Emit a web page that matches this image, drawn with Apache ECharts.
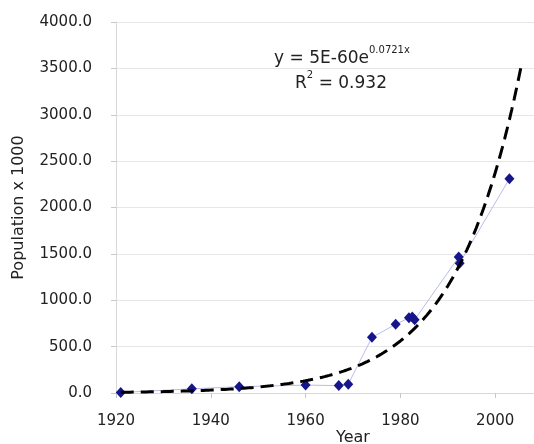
<!DOCTYPE html>
<html>
<head>
<meta charset="utf-8">
<script src="https://cdn.jsdelivr.net/npm/echarts@6/dist/echarts.min.js"></script>
<style>
  html, body { margin: 0; padding: 0; background: #fff; }
  #chart { width: 534px; height: 444px; }
</style>
</head>
<body>
<div id="chart"></div>
<script>
// Population census points (thousands)
const years = [1921, 1936, 1946, 1960, 1967, 1969, 1974, 1979, 1981.8, 1982.5, 1983, 1992.3, 1992.5, 2003];
const population = [5, 45, 68, 85, 80, 95, 600, 740, 810, 820, 790, 1465, 1400, 2310];

// Exponential trend y = a * e^(b x) and its fit quality
const trendA = 5.3e-60;
const trendB = 0.07213;
const rSquared = 0.932;
const trendStart = 1921;
const trendEnd = 2005.5;

// Axis ticks
const xTicks = [1920, 1940, 1960, 1980, 2000, 2020];
const yTicks = [0, 500, 1000, 1500, 2000, 2500, 3000, 3500, 4000];

const font = 'DejaVu Sans';
const textColor = '#222';

const pointData = years.map((y, i) => [y, population[i]]);

const trendData = [];
for (let x = trendStart; x <= trendEnd + 1e-9; x += 0.5) {
  trendData.push([x, trendA * Math.exp(trendB * x)]);
}

const aText = trendA.toExponential(0).toUpperCase().replace('+', '');
const bText = trendB.toFixed(4);

const eqRich = {
  m: { fontFamily: font, fontSize: 17, lineHeight: 22, fill: textColor, verticalAlign: 'bottom' },
  s: { fontFamily: font, fontSize: 10, lineHeight: 10, fill: textColor, verticalAlign: 'top' }
};

const chart = echarts.init(document.getElementById('chart'), null, { renderer: 'canvas' });
chart.setOption({
  animation: false,
  backgroundColor: '#fff',
  // the plot runs on past the right edge of the page, up to 2020
  grid: { left: 116, top: 22, width: 474, height: 371, containLabel: false, outerBoundsMode: 'none' },
  xAxis: {
    type: 'value',
    min: xTicks[0],
    max: xTicks[xTicks.length - 1],
    interval: xTicks[1] - xTicks[0],
    name: 'Year',
    nameLocation: 'middle',
    nameGap: 37,
    nameMoveOverlap: false,
    nameTextStyle: { fontFamily: font, fontSize: 16, color: textColor },
    axisLine: { show: true, lineStyle: { color: '#d8d8d8', width: 1 } },
    axisTick: { show: true, length: 5, lineStyle: { color: '#c8c8c8' } },
    axisLabel: { fontFamily: font, fontSize: 15, color: textColor, margin: 21, formatter: v => String(v) },
    splitLine: { show: false }
  },
  yAxis: {
    type: 'value',
    min: yTicks[0],
    max: yTicks[yTicks.length - 1],
    interval: yTicks[1] - yTicks[0],
    name: 'Population x 1000',
    nameLocation: 'middle',
    nameGap: 89,
    nameRotate: 90,
    nameMoveOverlap: false,
    nameTextStyle: { fontFamily: font, fontSize: 16, color: textColor },
    axisLine: { show: true, lineStyle: { color: '#d8d8d8', width: 1 } },
    axisTick: { show: true, length: 5, lineStyle: { color: '#c8c8c8' } },
    axisLabel: {
      fontFamily: font, fontSize: 15, color: textColor, margin: 24,
      formatter: v => v.toFixed(1)
    },
    splitLine: { show: true, lineStyle: { color: '#e6e6e6', width: 1 } }
  },
  series: [
    {
      name: 'Population',
      type: 'line',
      data: pointData,
      symbol: 'diamond',
      symbolSize: [10, 11],
      itemStyle: { color: '#16168a' },
      lineStyle: { color: '#b9bce8', width: 1 },
      z: 2
    },
    {
      name: 'Trend',
      type: 'line',
      data: trendData,
      showSymbol: false,
      symbol: 'none',
      smooth: false,
      lineStyle: { color: '#000', width: 3, type: [13, 7] },
      z: 3
    }
  ],
  graphic: [
    {
      type: 'text',
      x: 342,
      y: 56,
      style: {
        text: '{m|y = ' + aText + 'e}{s|' + bText + 'x}',
        align: 'center',
        verticalAlign: 'middle',
        fill: textColor,
        rich: eqRich
      }
    },
    {
      type: 'text',
      x: 341,
      y: 81,
      style: {
        text: '{m|R}{s|2}{m| = ' + rSquared.toFixed(3) + '}',
        align: 'center',
        verticalAlign: 'middle',
        fill: textColor,
        rich: eqRich
      }
    }
  ]
});
</script>
</body>
</html>
